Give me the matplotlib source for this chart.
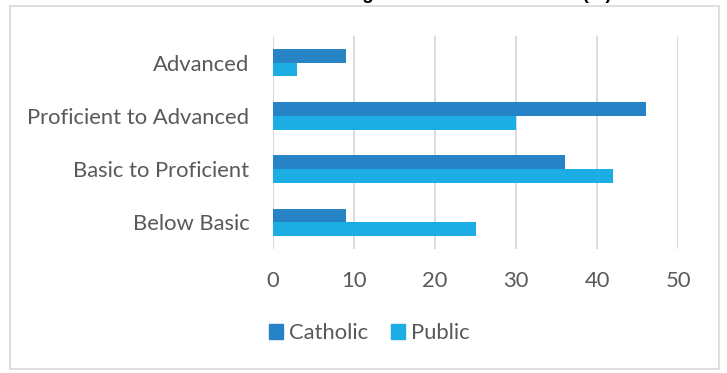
import matplotlib.pyplot as plt
import matplotlib.patches as mpatches
import numpy as np

# achievement levels, bottom to top as drawn
levels = ["Below Basic", "Basic to Proficient", "Proficient to Advanced", "Advanced"]
catholic = [9, 36, 46, 9]
public = [25, 42, 30, 3]
x_ticks = [0, 10, 20, 30, 40, 50]

CATHOLIC_C = "#2683C6"
PUBLIC_C = "#1CADE4"
GRID_C = "#d9d9d9"
TEXT_C = "#595959"
FONT = ["Lato", "DejaVu Sans"]
FS = 15.8

fig = plt.figure(figsize=(7.27, 3.73), dpi=100)
ax = fig.add_axes([273 / 727, 1 - 249 / 373, (678 - 273) / 727, (249 - 36) / 373])

y = np.arange(len(levels))
h = 0.26
ax.barh(y + h / 2, catholic, height=h, color=CATHOLIC_C, label="Catholic", zorder=3)
ax.barh(y - h / 2, public, height=h, color=PUBLIC_C, label="Public", zorder=3)

ax.set_xlim(0, 50)
ax.set_ylim(-0.5, 3.5)
ax.set_xticks(x_ticks)
ax.set_xticklabels([str(t) for t in x_ticks], fontsize=FS, color=TEXT_C, family=FONT)
ax.set_yticks(y)
ax.set_yticklabels(levels, fontsize=FS, color=TEXT_C, family=FONT)
ax.tick_params(axis="x", length=0, pad=16)
ax.tick_params(axis="y", length=0, pad=17)
ax.grid(axis="x", color=GRID_C, linewidth=1.3, zorder=0)
for s in ax.spines.values():
    s.set_visible(False)

# chart title sits above the visible frame
fig.text(0.505, 1 + 1.5 / 373, "Catholic vs. Public: Reading in the 8th Grade Trend (%)",
         ha="center", va="baseline", fontsize=13.5, fontweight="bold",
         family=["Liberation Sans", "DejaVu Sans"], color="black")

handles = [mpatches.Patch(color=CATHOLIC_C, label="Catholic"),
           mpatches.Patch(color=PUBLIC_C, label="Public")]
leg = fig.legend(handles=handles, loc="center", bbox_to_anchor=(0.508, 1 - 333 / 373),
                 ncol=2, frameon=False, prop={"family": FONT, "size": FS},
                 handlelength=0.65, handleheight=0.65, handletextpad=0.3, columnspacing=1.0)
for t in leg.get_texts():
    t.set_color(TEXT_C)

# outer chart border
fig.patches.append(mpatches.Rectangle((10 / 727, 1 - 369 / 373), 709 / 727, 363 / 373,
                                      transform=fig.transFigure, fill=False,
                                      edgecolor=GRID_C, linewidth=1.2))

fig.savefig("out.png", dpi=100)
